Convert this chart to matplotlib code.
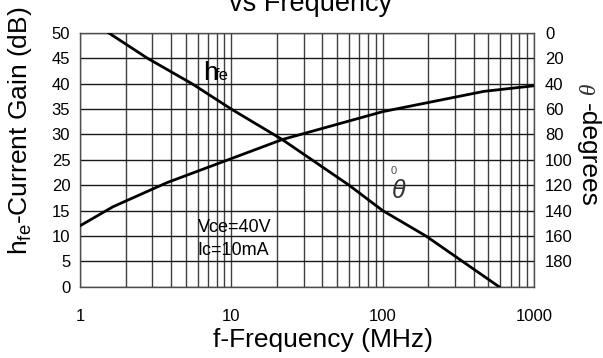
import numpy as np
import matplotlib
matplotlib.use('Agg')
import matplotlib.pyplot as plt

plt.rcParams['font.family'] = ['Liberation Sans', 'DejaVu Sans']
plt.rcParams['mathtext.fontset'] = 'custom'
plt.rcParams['mathtext.rm'] = 'Liberation Sans'
plt.rcParams['mathtext.it'] = 'Liberation Sans:italic'

# Current gain hfe (dB) vs frequency (MHz)
freq_hfe = [1.55, 2.8, 5.5, 10, 21.7, 60, 100, 193, 587]
hfe_db = [50, 45, 40, 35, 29, 20, 15, 10, 0]

# Phase angle theta (degrees) vs frequency (MHz)
freq_theta = [1, 1.65, 3.75, 10, 21.7, 100, 467, 1000]
theta_deg = [152, 137, 118, 99, 84, 62, 46, 41.6]

gain_ticks = list(range(0, 55, 5))
theta_ticks = list(range(0, 200, 20))
freq_ticks = [1, 10, 100, 1000]
freq_labels = ['1', '10', '100', '1000']

W, H = 603, 358
fig = plt.figure(figsize=(W/100, H/100), dpi=100)
ax = fig.add_axes([80/W, 1 - 286.7/H, (534 - 80)/W, (286.7 - 33)/H])

# log grid: every integer multiple in each decade
grid_x = [m * 10**d for d in range(3) for m in range(1, 10)] + [1000]
for gx in grid_x:
    ax.axvline(gx, color='0.25', lw=1.0, zorder=1)
for gy in gain_ticks:
    ax.axhline(gy, color='0.1', lw=1.0, zorder=1)

ax.plot(freq_hfe, hfe_db, color='black', lw=2.0, zorder=3)

ax.set_xscale('log')
ax.set_xlim(1, 1000)
ax.set_ylim(0, 50)
ax.set_xticks(freq_ticks)
ax.set_xticklabels(freq_labels)
ax.xaxis.set_minor_locator(matplotlib.ticker.NullLocator())
ax.set_yticks(gain_ticks)
ax.tick_params(axis='both', length=0, labelsize=12)
ax.tick_params(axis='x', pad=16)
ax.tick_params(axis='y', pad=7)
for sp in ax.spines.values():
    sp.set_color('0.3')
    sp.set_linewidth(1.0)

ax2 = ax.twinx()
ax2.plot(freq_theta, theta_deg, color='black', lw=2.0, zorder=3)
ax2.set_ylim(200, 0)
ax2.set_yticks(theta_ticks)
ax2.tick_params(axis='y', length=0, labelsize=12, pad=8)
for sp in ax2.spines.values():
    sp.set_visible(False)

# axis titles
fig.text(323/W, 1 - 347/H, 'f-Frequency (MHz)', fontsize=19, ha='center', va='baseline')
fig.text(20/W, 1 - 131/H, r'h$_{\mathrm{fe}}$-Current Gain (dB)', rotation=90,
         fontsize=19, ha='center', va='center')
fig.text(582/W, 1 - 90/H, 'θ', family='Liberation Serif', style='italic',
         rotation=270, fontsize=17, ha='center', va='center', color='0.2')
fig.text(588/W, 1 - 155/H, '-degrees', rotation=270, fontsize=19,
         ha='center', va='center')
fig.text(311/W, 1 - 11/H, 'vs Frequency', fontsize=19.5, ha='center', va='baseline')

# curve labels and test conditions
ax.text(6.5, 40.8, 'h', fontsize=19, ha='left', va='baseline')
ax.text(7.8, 40.8, 'fe', fontsize=12, ha='left', va='baseline')
ax.text(118, 22.3, '0', fontsize=8, ha='center', va='baseline', color='0.3')
ax.text(128, 17.5, r'$\theta$', fontsize=18, ha='center', va='baseline', color='0.2',
        family='Liberation Serif')
ax.text(6.0, 11.6, 'Vce=40V', fontsize=13, ha='left', va='center')
ax.text(6.0, 7.2, 'Ic=10mA', fontsize=13, ha='left', va='center')

fig.savefig('out.png', dpi=100)
